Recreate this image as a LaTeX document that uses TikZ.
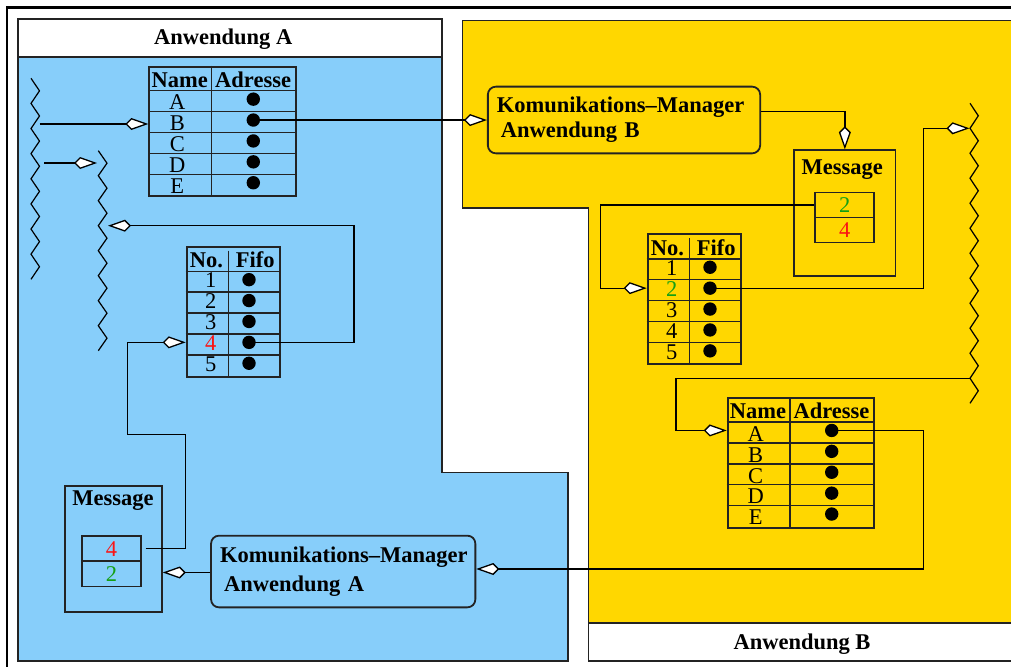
\documentclass[tikz,border=0pt]{standalone}
\usepackage{fontspec}
\setmainfont{Liberation Serif}
\usetikzlibrary{arrows.meta,calc}

\definecolor{appA}{RGB}{135,206,250}
\definecolor{appB}{RGB}{255,215,0}
\definecolor{edge}{RGB}{35,35,35}
\definecolor{numred}{RGB}{250,20,20}
\definecolor{numgreen}{RGB}{20,160,20}

\tikzset{
  px/.style={x=1pt,y=-1pt},
  txt/.style={font=\fontsize{22.5}{26}\selectfont, inner sep=0pt},
  hdr/.style={inner sep=0pt, font=\fontsize{22.5}{26}\selectfont\bfseries},
  region/.style={draw=edge, line width=1.6pt},
  tblframe/.style={draw=edge, line width=2pt, inner sep=0pt},
  tblrule/.style={draw=edge, line width=1.4pt},
  dot/.style={circle, fill=black, inner sep=0pt, minimum size=13.4pt},
  boxframe/.style={draw=edge, line width=1.8pt, inner sep=0pt},
  cellframe/.style={draw=edge, line width=1.5pt, inner sep=0pt},
  kmbox/.style={draw=edge, line width=1.8pt, rounded corners=8pt, align=left,
                inner ysep=0pt},
  link/.style={draw=black, line width=1.3pt},
  conn/.style={link, -{Kite[length=23pt,width=12pt,inset=6pt,fill=white]}},
  thread/.style={draw=black, line width=1.2pt, line join=miter},
}

% Name/Adresse table: #1 node name, #2 left, #3 top
\newcommand\NameTable[3]{%
  \node[tblframe, anchor=north west, minimum width=146.7pt, minimum height=129.5pt] (#1) at (#2,#3) {};
  \foreach \k in {0,...,4}
    \draw[tblrule] (#2,#3+25+20.9*\k) -- ++(146.7,0);
  \draw[tblrule] (#2+63.2,#3) -- ++(0,129.5);
  \node[hdr, anchor=base] at (#2+31.4,#3+21.5) {Name};
  \node[hdr, anchor=base] at (#2+104.8,#3+21.5) {Adresse};
  \foreach \r [count=\k] in {A,B,C,D,E} {
    \node[txt, anchor=base] at (#2+29,#3+25+20.9*\k-1.7) {\r};
    \node[dot] (#1-\r) at (#2+105,#3+25+20.9*\k-12.45) {};
  }
}

% No./Fifo table: #1 node name, #2 left, #3 top, #4 row labels
\newcommand\FifoTable[4]{%
  \node[tblframe, anchor=north west, minimum width=92.8pt, minimum height=130pt] (#1) at (#2,#3) {};
  \foreach \k in {0,...,4}
    \draw[tblrule] (#2,#3+25.5+20.9*\k) -- ++(92.8,0);
  \draw[tblrule] (#2+42.5,#3+5) -- (#2+42.5,#3+130);
  \node[hdr, anchor=base] at (#2+20.7,#3+21.7) {No.};
  \node[hdr, anchor=base] at (#2+69.6,#3+21.7) {Fifo};
  \foreach \r [count=\k] in {#4} {
    \node[txt, anchor=base] at (#2+25,#3+25.5+20.9*\k-4.2) {\r};
    \node[dot] (#1-\k) at (#2+63.3,#3+25.5+20.9*\k-12.45) {};
  }
}

\begin{document}
\begin{tikzpicture}[px]
\useasboundingbox (0,0) rectangle (1011,666);

% outer frame
\draw[line width=2.8pt] (7,7.6) rectangle (1040,700);

% application A
\draw[region, fill=appA] (18,57) -- (441.7,57) -- (441.7,472.3) -- (567.7,472.3)
  -- (567.7,660.7) -- (18,660.7) -- cycle;
\draw[region, fill=white] (18,19.3) rectangle (441.7,57);
\node[hdr, anchor=base] (titleA) at (223.3,45) {Anwendung A};

% application B
\draw[region, fill=appB] (462.5,20.4) -- (1040,20.4) -- (1040,623) -- (588.3,623)
  -- (588.3,207.7) -- (462.5,207.7) -- cycle;
\draw[region, fill=white] (588.3,623) rectangle (1040,660.7);
\node[hdr, anchor=base] (titleB) at (802,649) {Anwendung B};

% threads
\draw[thread] (31,78.3) \foreach \i in {1,...,16} { -- ({ifthenelse(isodd(\i),39.5,31)},{78.3+12.5625*\i}) };
\draw[thread] (98.3,150.7) \foreach \i in {1,...,16} { -- ({ifthenelse(isodd(\i),107,98.3)},{150.7+12.5*\i}) };
\draw[thread] (970,103.3) \foreach \i in {1,...,24} { -- ({ifthenelse(isodd(\i),978.3,970)},{103.3+12.5*\i}) };

\coordinate (thA1-out) at (39.5,124);
\coordinate (thA1-tap) at (44,163);
\coordinate (thA2-in) at (97,163);
\coordinate (thA2-ret) at (108,225.7);
\coordinate (thB-in) at (969.5,128.3);
\coordinate (thB-out) at (970,378.3);

% tables
\NameTable{nameA}{148.3}{65.7}
\FifoTable{fifoA}{185.7}{245.7}{1,2,3,\textcolor{numred}{4},5}
\FifoTable{fifoB}{646.7}{233.3}{1,\textcolor{numgreen}{2},3,4,5}
\NameTable{nameB}{726.7}{397}

% messages
\node[boxframe, anchor=north west, minimum width=96.7pt, minimum height=125.7pt] (msgA) at (64.3,485) {};
\node[hdr, anchor=base] at (113,505.7) {Message};
\node[cellframe, anchor=north west, minimum width=59pt, minimum height=25.3pt] (msgA-top) at (81,535) {};
\node[cellframe, anchor=north west, minimum width=59pt, minimum height=25.3pt] (msgA-bot) at (81,560.3) {};
\node[txt, anchor=base, text=numred] at (111.5,556) {4};
\node[txt, anchor=base, text=numgreen] at (111.5,581.3) {2};

\node[boxframe, anchor=north west, minimum width=101.3pt, minimum height=125.7pt] (msgB) at (793.3,149.3) {};
\node[hdr, anchor=base] at (842.3,174.5) {Message};
\node[cellframe, anchor=north west, minimum width=59pt, minimum height=25pt] (msgB-top) at (814.3,191.7) {};
\node[cellframe, anchor=north west, minimum width=59pt, minimum height=25pt] (msgB-bot) at (814.3,216.7) {};
\node[txt, anchor=base, text=numgreen] at (844.8,212.5) {2};
\node[txt, anchor=base, text=numred] at (844.8,237.5) {4};

% communication managers
\node[kmbox, minimum width=272.3pt, minimum height=66.7pt, text width=254.3pt, inner xsep=9pt,
      font=\fontsize{22.5}{25}\selectfont\bfseries] (kmB) at (624,120)
  {Komunikations–Manager\\\hspace*{4pt}Anwendung B};
\node[kmbox, minimum width=264.3pt, minimum height=71.7pt, text width=250pt, inner xsep=7.15pt,
      font=\fontsize{22.5}{29}\selectfont\bfseries] (kmA) at (343.2,571.5)
  {\hspace*{2pt}Komunikations–Manager\\\hspace*{6pt}Anwendung A};

% connections
\draw[conn] (thA1-out) -- (nameA.west |- thA1-out);
\draw[conn] (thA1-tap) -- (thA2-in);
\draw[conn] (nameA-B.center) -- (nameA-B.center -| kmB.west);
\draw[conn] (kmB.east |- 0,111.7) -| (msgB.north);
\draw[conn] (msgB-top.west) -| (600.7,0 |- fifoB-2.center) -- (fifoB.west |- fifoB-2.center);
\draw[conn] (fifoB-2.center) -| (923.3,0 |- thB-in) -- (thB-in);
\draw[conn] (thB-out) -| (676,0 |- nameB-A.center) -- (nameB.west |- nameB-A.center);
\draw[conn] (nameB-A.center) -| (923.3,569) -- (kmA.east |- 0,569);
\draw[conn] (kmA.west |- 0,572.5) -- (msgA.east |- 0,572.5);
\draw[conn] ([xshift=4pt]msgA-top.east) -- (185.7,0 |- msgA-top.east) -- (185.7,434.7)
  -- (127.3,434.7) |- (fifoA.west |- fifoA-4.center);
\draw[conn] (fifoA-4.center) -| (354,0 |- thA2-ret) -- (thA2-ret);
\end{tikzpicture}
\end{document}
